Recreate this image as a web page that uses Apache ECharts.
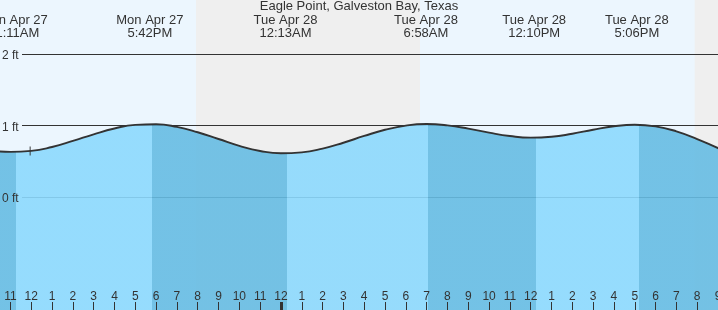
<!DOCTYPE html>
<html><head><meta charset="utf-8">
<script src="https://cdn.jsdelivr.net/npm/echarts@6/dist/echarts.min.js"></script>
<style>html,body{margin:0;padding:0;background:#ecf6fe}#c{width:718px;height:310px}</style>
</head><body><div id="c"></div>
<script>
const TITLE = 'Eagle Point, Galveston Bay, Texas';
// Hours relative to midnight, Tue Apr 28 (hourly readings of the tide curve)
const tideHours = [-14, -13, -12, -11, -10, -9, -8, -7, -6, -5, -4, -3, -2, -1, 0, 1, 2, 3, 4, 5, 6, 7, 8, 9, 10, 11, 12, 13, 14, 15, 16, 17, 18, 19, 20, 21, 22];
const tideFeet  = [0.654, 0.631, 0.645, 0.700, 0.784, 0.877, 0.958, 1.009, 1.018, 0.981, 0.906, 0.811, 0.716, 0.644, 0.611, 0.624, 0.677, 0.759, 0.854, 0.940, 0.999, 1.020, 1.002, 0.957, 0.900, 0.853, 0.830, 0.842, 0.885, 0.941, 0.989, 1.010, 0.988, 0.918, 0.810, 0.684, 0.564];
const extremeHours = [-12.817, -6.3, 0.217, 6.967, 12.167, 17.1];
const extremeTypes = ['L', 'H', 'L', 'H', 'L', 'H'];
const extremeDays  = ['Mon Apr 27', 'Mon Apr 27', 'Tue Apr 28', 'Tue Apr 28', 'Tue Apr 28', 'Tue Apr 28'];
const extremeTimes = ['11:11AM', '5:42PM', '12:13AM', '6:58AM', '12:10PM', '5:06PM'];
const nightStarts = [-4.08, 19.88];
const nightEnds   = [6.68, 21];
const hourTicks = [];
for (let h = -13; h <= 21; h++) hourTicks.push(h);
const midnightHours = [0];
const yTicks = [0, 1, 2];
const nowHour = -12.05;
const nowFeet = 0.645;

const X_MIN = -13.5, X_MAX = 21, Y_MIN = -1.58, Y_MAX = 2.755;
const BAND_SHIFT = 0.09; // shading changes slightly after each turn of the tide
const FONT = "'Liberation Sans', Arial, sans-serif";
const INK = '#333';
const LIGHT = 'rgb(140,217,253)';
const DARK = 'rgb(102,188,227)';

function hourLabel(v) {
  const h = ((Math.round(v) % 24) + 24) % 24;
  const r = h % 12;
  return String(r === 0 ? 12 : r);
}
function extremeLabel(v) {
  let best = 0;
  extremeHours.forEach((h, i) => { if (Math.abs(h - v) < Math.abs(extremeHours[best] - v)) best = i; });
  return extremeDays[best] + '\n' + extremeTimes[best];
}
const pieces = [];
for (let i = 0; i <= extremeHours.length; i++) {
  const p = {};
  if (i > 0) p.gte = extremeHours[i - 1] + BAND_SHIFT;
  if (i < extremeHours.length) p.lt = extremeHours[i] + BAND_SHIFT;
  const rising = i < extremeHours.length ? extremeTypes[i] === 'H' : extremeTypes[i - 1] === 'L';
  p.color = rising ? LIGHT : DARK;
  pieces.push(p);
}

const noLine = { show: false, onZero: false };
const chart = echarts.init(document.getElementById('c'), null, { renderer: 'canvas' });
chart.setOption({
  backgroundColor: '#ecf6fe',
  animation: false,
  textStyle: { fontFamily: FONT },
  title: { text: TITLE, left: 'center', top: 0, padding: 0,
    textStyle: { fontSize: 13, fontWeight: 'normal', color: INK, fontFamily: FONT } },
  grid: [
    { left: 0, right: 0, top: 0, bottom: 0, containLabel: false, outerBoundsMode: 'none' },
    { left: 22, right: 0, top: 0, bottom: 0, containLabel: false, outerBoundsMode: 'none' }
  ],
  xAxis: [
    { gridIndex: 0, type: 'value', min: X_MIN, max: X_MAX, position: 'bottom', z: 10,
      axisLine: noLine, splitLine: { show: false },
      axisTick: { show: true, inside: true, length: 8, customValues: hourTicks, lineStyle: { color: INK, width: 1 } },
      axisLabel: { inside: true, margin: 7, customValues: hourTicks, formatter: hourLabel, color: INK, fontSize: 12, fontFamily: FONT } },
    { gridIndex: 0, type: 'value', min: X_MIN, max: X_MAX, position: 'top', z: 10,
      axisLine: noLine, splitLine: { show: false }, axisTick: { show: false },
      axisLabel: { inside: true, margin: 14, customValues: extremeHours, formatter: extremeLabel, color: INK, fontSize: 13, lineHeight: 13, fontFamily: FONT } },
    { gridIndex: 0, type: 'value', min: X_MIN, max: X_MAX, position: 'bottom', z: 11,
      axisLine: noLine, splitLine: { show: false },
      axisTick: { show: true, inside: true, length: 8, customValues: midnightHours, lineStyle: { color: INK, width: 3 } },
      axisLabel: { show: false } },
    { gridIndex: 1, type: 'value', min: X_MIN, max: X_MAX, show: false,
      axisLine: noLine, axisTick: { show: false }, axisLabel: { show: false }, splitLine: { show: false } }
  ],
  yAxis: [
    { gridIndex: 0, type: 'value', min: Y_MIN, max: Y_MAX, z: 10,
      axisLine: noLine, axisTick: { show: false }, splitLine: { show: false },
      axisLabel: { inside: true, margin: 2, verticalAlign: 'top', lineHeight: 4, customValues: yTicks, formatter: '{value} ft', color: INK, fontSize: 12, fontFamily: FONT } },
    { gridIndex: 1, type: 'value', min: Y_MIN, max: Y_MAX, z: 2,
      axisLine: noLine, axisTick: { show: false, customValues: yTicks },
      axisLabel: { show: false },
      splitLine: { show: true, lineStyle: { color: INK, width: 1 } } }
  ],
  visualMap: { show: false, type: 'piecewise', seriesIndex: 0, dimension: 0, pieces: pieces },
  series: [
    { type: 'line', xAxisIndex: 0, yAxisIndex: 0, z: 3,
      data: tideHours.map((h, i) => [h, tideFeet[i]]),
      smooth: 0.5, showSymbol: false, symbol: 'none',
      lineStyle: { color: INK, width: 1.9 },
      areaStyle: { origin: 'start', opacity: 0.9 },
      markArea: { silent: true, z: 1, itemStyle: { color: '#efefef', opacity: 1 },
        data: nightStarts.map((s, i) => [{ xAxis: s }, { xAxis: nightEnds[i] }]) } },
    { type: 'scatter', xAxisIndex: 0, yAxisIndex: 0, z: 5,
      data: [[nowHour, nowFeet]], symbol: 'rect', symbolSize: [1.2, 9],
      itemStyle: { color: INK } }
  ]
});
</script>
</body></html>
